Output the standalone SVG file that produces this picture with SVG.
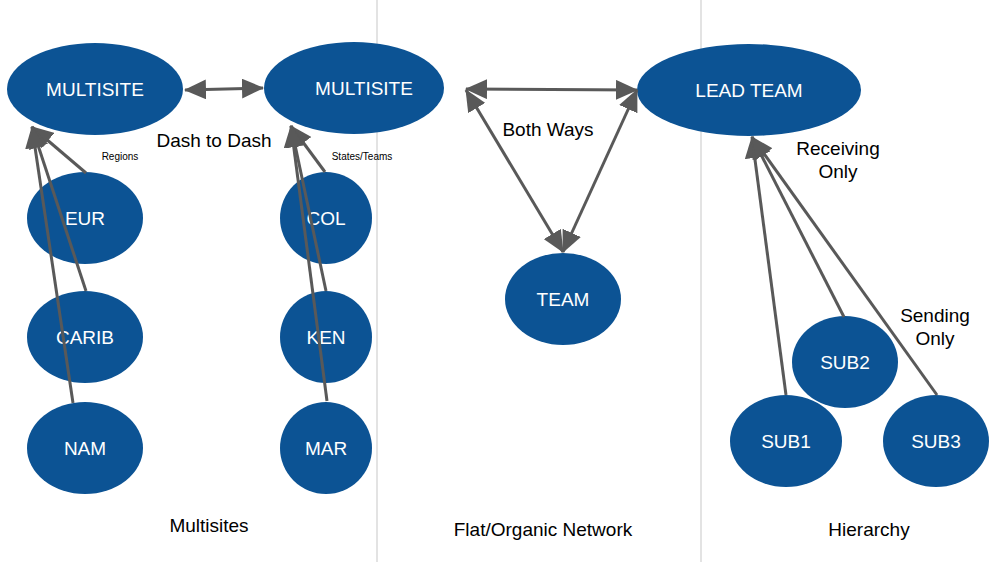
<svg xmlns="http://www.w3.org/2000/svg" width="1000" height="562" viewBox="0 0 1000 562">
<style>
.node{fill:#0c5394}
.nt{fill:#fff;font-family:"Liberation Sans",Arial,sans-serif;font-size:19px;text-anchor:middle}
.lbl{fill:#000;font-family:"Liberation Sans",Arial,sans-serif;font-size:19px;text-anchor:middle}
.sm{fill:#000;font-family:"Liberation Sans",Arial,sans-serif;font-size:10px;text-anchor:middle}
.c{stroke:#595959;stroke-width:3;fill:none}
.div{stroke:#d0d0d0;stroke-width:1.2}
</style>
<defs>
<marker id="ah" viewBox="0 0 22 20" refX="21" refY="10" markerWidth="22" markerHeight="20" markerUnits="userSpaceOnUse" orient="auto-start-reverse">
<path d="M0,0 L22,10 L0,20 z" fill="#595959"/>
</marker>
</defs>
<rect width="1000" height="562" fill="#fff"/>
<g id="dividers">
<line class="div" x1="377" y1="0" x2="377" y2="562"/>
<line class="div" x1="701" y1="0" x2="701" y2="562"/>
</g>
<g id="n-multisite1"><ellipse class="node" cx="95" cy="89" rx="88" ry="46"/><text class="nt" x="95" y="96">MULTISITE</text></g>
<g id="n-eur"><ellipse class="node" cx="85" cy="218" rx="58" ry="46"/><text class="nt" x="85" y="225">EUR</text></g>
<g id="n-carib"><ellipse class="node" cx="85" cy="337" rx="58" ry="46"/><text class="nt" x="85" y="344">CARIB</text></g>
<g id="n-nam"><ellipse class="node" cx="85" cy="448" rx="58" ry="46"/><text class="nt" x="85" y="455">NAM</text></g>
<g id="n-multisite2"><ellipse class="node" cx="354" cy="88" rx="90" ry="46"/><text class="nt" x="364" y="95">MULTISITE</text></g>
<g id="n-col"><ellipse class="node" cx="326" cy="218" rx="46" ry="46"/><text class="nt" x="326" y="225">COL</text></g>
<g id="n-ken"><ellipse class="node" cx="326" cy="337" rx="46" ry="46"/><text class="nt" x="326" y="344">KEN</text></g>
<g id="n-mar"><ellipse class="node" cx="326" cy="448" rx="46" ry="46"/><text class="nt" x="326" y="455">MAR</text></g>
<g id="n-leadteam"><ellipse class="node" cx="749" cy="90" rx="112" ry="46"/><text class="nt" x="749" y="97">LEAD TEAM</text></g>
<g id="n-team"><ellipse class="node" cx="563" cy="299" rx="58" ry="46"/><text class="nt" x="563" y="306">TEAM</text></g>
<g id="n-sub2"><ellipse class="node" cx="845" cy="362" rx="53" ry="46"/><text class="nt" x="845" y="369">SUB2</text></g>
<g id="n-sub1"><ellipse class="node" cx="786" cy="441" rx="56" ry="46"/><text class="nt" x="786" y="448">SUB1</text></g>
<g id="n-sub3"><ellipse class="node" cx="936" cy="441" rx="53" ry="46"/><text class="nt" x="936" y="448">SUB3</text></g>
<g id="connectors">
<line class="c" x1="185" y1="90" x2="263" y2="88" marker-start="url(#ah)" marker-end="url(#ah)"/>
<line class="c" x1="86" y1="173" x2="32" y2="127" marker-end="url(#ah)"/>
<line class="c" x1="86" y1="291" x2="32" y2="127" marker-end="url(#ah)"/>
<line class="c" x1="73" y1="403" x2="32" y2="127" marker-end="url(#ah)"/>
<line class="c" x1="325" y1="172" x2="291" y2="126" marker-end="url(#ah)"/>
<line class="c" x1="326" y1="291" x2="291" y2="126" marker-end="url(#ah)"/>
<line class="c" x1="327" y1="401" x2="291" y2="126" marker-end="url(#ah)"/>
<line class="c" x1="466" y1="89" x2="637" y2="90" marker-start="url(#ah)" marker-end="url(#ah)"/>
<line class="c" x1="466" y1="90" x2="563" y2="252" marker-start="url(#ah)" marker-end="url(#ah)"/>
<line class="c" x1="563" y1="252" x2="637" y2="90" marker-start="url(#ah)" marker-end="url(#ah)"/>
<line class="c" x1="786" y1="395" x2="752" y2="137" marker-end="url(#ah)"/>
<line class="c" x1="844" y1="317" x2="752" y2="137" marker-end="url(#ah)"/>
<line class="c" x1="937" y1="395" x2="752" y2="137" marker-end="url(#ah)"/>
</g>
<g id="labels">
<text class="lbl" x="214" y="147">Dash to Dash</text>
<text class="sm" x="120" y="160">Regions</text>
<text class="sm" x="362" y="160">States/Teams</text>
<text class="lbl" x="548" y="136">Both Ways</text>
<text class="lbl" x="838" y="155">Receiving</text>
<text class="lbl" x="838" y="178">Only</text>
<text class="lbl" x="935" y="322">Sending</text>
<text class="lbl" x="935" y="345">Only</text>
<text class="lbl" x="209" y="532">Multisites</text>
<text class="lbl" x="543" y="536">Flat/Organic Network</text>
<text class="lbl" x="869" y="536">Hierarchy</text>
</g>
</svg>
